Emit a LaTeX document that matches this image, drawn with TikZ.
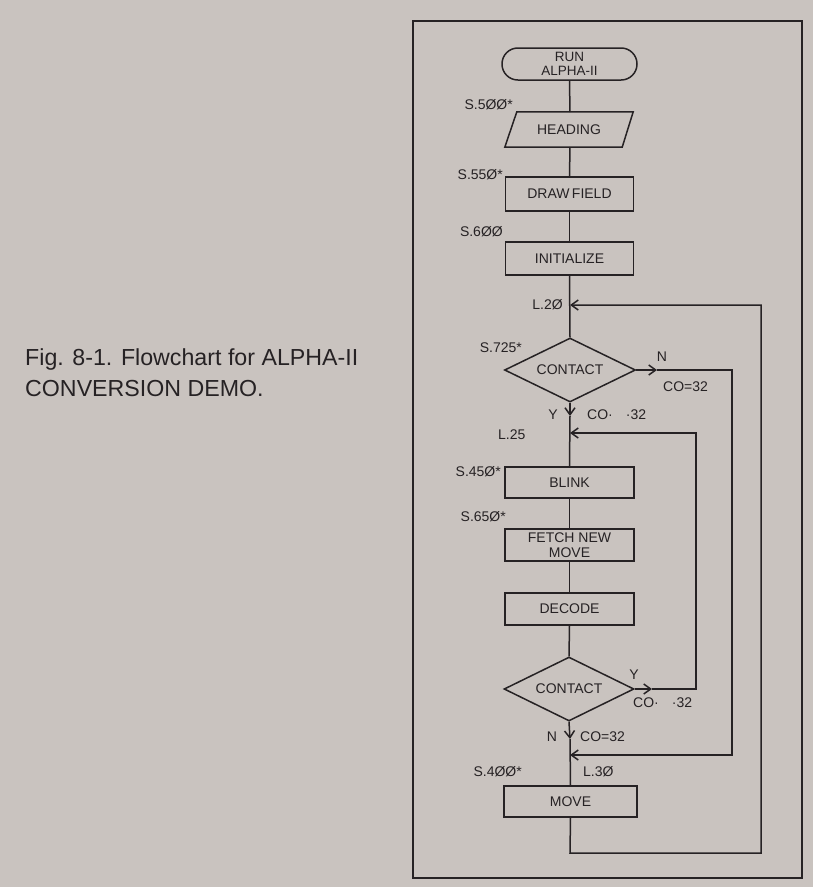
\documentclass[tikz,border=0pt]{standalone}
\usepackage{fontspec}
\setmainfont{Liberation Sans}
\usetikzlibrary{arrows.meta,shapes.geometric}
\definecolor{paper}{HTML}{C9C3BF}
\definecolor{ink}{HTML}{262224}
\tikzset{
  flow/.style={draw=ink,line width=1.5pt},
  arr/.style={flow,-{Straight Barb[length=7pt,width=10pt,line width=1.5pt]}},
  box/.style={draw=ink,line width=1.5pt,rectangle,minimum width=128pt,minimum height=32pt,inner sep=0pt,align=center,text=ink,font=\fontsize{14}{15}\selectfont},
  term/.style={box,rounded corners=15.9pt,minimum width=135pt,font=\fontsize{13.5}{14}\selectfont},
  parabody/.style={rectangle,minimum width=128pt,minimum height=35pt,inner sep=0pt,text=ink,font=\fontsize{14}{15}\selectfont},
  decision/.style={draw=ink,line width=1.5pt,diamond,aspect=2,minimum width=131pt,minimum height=64pt,inner sep=0pt,text=ink,font=\fontsize{14}{15}\selectfont},
  lab/.style={inner sep=0pt,text=ink,font=\fontsize{14}{15}\selectfont},
  caption/.style={inner sep=0pt,text=ink,align=left,font=\fontsize{23.2}{31}\selectfont}
}
\begin{document}
\begin{tikzpicture}[x=1pt,y=-1pt]
\useasboundingbox (0,0) rectangle (813,887);
\fill[paper] (0,0) rectangle (813,887);
\draw[ink,line width=2.4pt] (413,21) rectangle (802,878);

\node[caption,anchor=north west] (cap) at (25,348) {Fig. 8-1. Flowchart for ALPHA-II\\CONVERSION DEMO.};

% nodes
\node[term] (run) at (569.5,64) {RUN\\ALPHA-II};
\node[parabody] (head) at (569,129.5) {HEADING};
\draw[flow,line join=miter] (head.south west) -- ([xshift=12pt]head.north west) -- (head.north east) -- ([xshift=-11pt]head.south east) -- cycle;
\node[box,minimum height=34pt] (drawf) at (569.5,194) {DRAW\,FIELD};
\node[box,minimum height=33pt] (init) at (569.5,258.5) {INITIALIZE};
\node[decision] (d1) at (570,370) {CONTACT};
\node[box,minimum width=129pt,minimum height=31pt] (blink) at (569.5,482.5) {BLINK};
\node[box,minimum width=129pt] (fetch) at (569.5,545) {FETCH NEW\\MOVE};
\node[box,minimum width=129pt] (decode) at (569.5,609) {DECODE};
\node[decision,minimum width=130pt] (d2) at (569,689) {CONTACT};
\node[box,minimum width=133pt,minimum height=31pt] (move) at (570.5,801.5) {MOVE};

% coordinates
\coordinate (m20) at (570,305);
\coordinate (y1) at (570,416);
\coordinate (m25) at (570,433);
\coordinate (n1) at (657,370);
\coordinate (n1c) at (732,370);
\coordinate (m30) at (570,755);
\coordinate (y2) at (652,689);
\coordinate (y2c) at (696,689);
\coordinate (n2) at (570,739);
\coordinate (mb) at (570,853);
\coordinate (mr) at (761,853);
\coordinate (hn) at (570,112);
\coordinate (hs) at (570,147);

% main line
\draw[flow] (run.south) -- (hn);
\draw[flow] (hs) -- (drawf.north);
\draw[flow] (drawf.south) -- (init.north);
\draw[flow] (init.south) -- (d1.north);
\draw[arr] (d1.south) -- (y1);
\draw[flow] (y1) -- (blink.north);
\draw[flow] (blink.south) -- (fetch.north);
\draw[flow] (fetch.south) -- (decode.north);
\draw[flow] (decode.south) -- (d2.north);
\draw[arr] (d2.south) -- (n2);
\draw[flow] (n2) -- (move.north);

% loops
\draw[arr] (move.south) -- (mb) -- (mr) |- (m20);
\draw[arr] (d1.east) -- (n1);
\draw[arr] (n1) -- (n1c) |- (m30);
\draw[arr] (d2.east) -- (y2);
\draw[arr] (y2) -- (y2c) |- (m25);

% labels
\node[lab,anchor=east] (l1) at (513,105) {S.5ØØ*};
\node[lab,anchor=east] (l2) at (503,175) {S.55Ø*};
\node[lab,anchor=east] (l3) at (503,232) {S.6ØØ};
\node[lab,anchor=east] (l4) at (563,305) {L.2Ø};
\node[lab,anchor=east] (l5) at (522,348) {S.725*};
\node[lab] (l6) at (662,357) {N};
\node[lab,anchor=west] (l7) at (663,387) {CO=32};
\node[lab] (l8) at (553,415) {Y};
\node[lab,anchor=west] (l9) at (587,415) {CO·\hspace{13pt}·32};
\node[lab,anchor=west] (l10) at (498,435) {L.25};
\node[lab,anchor=east] (l11) at (501,472) {S.45Ø*};
\node[lab,anchor=east] (l12) at (506,517) {S.65Ø*};
\node[lab] (l13) at (634,675) {Y};
\node[lab,anchor=west] (l14) at (633,703) {CO·\hspace{13pt}·32};
\node[lab] (l15) at (552,737) {N};
\node[lab,anchor=west] (l16) at (580,737) {CO=32};
\node[lab,anchor=east] (l17) at (522,772) {S.4ØØ*};
\node[lab,anchor=west] (l18) at (583,772) {L.3Ø};
\end{tikzpicture}
\end{document}
